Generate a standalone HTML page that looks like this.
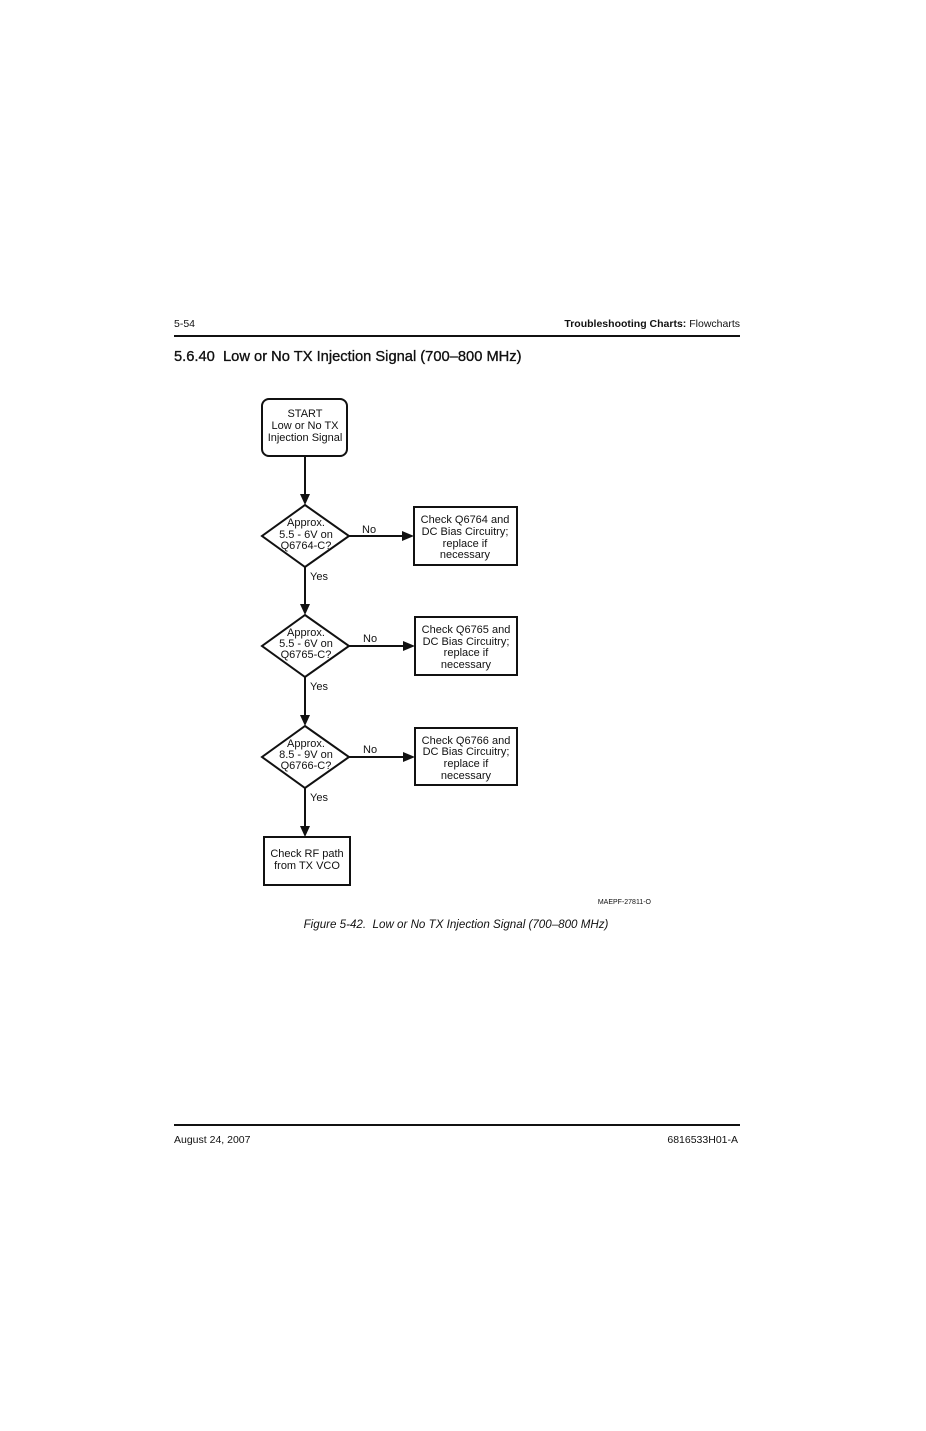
<!DOCTYPE html>
<html>
<head>
<meta charset="utf-8">
<style>
html,body{margin:0;padding:0;background:#fff;}
body{width:926px;height:1431px;position:relative;overflow:hidden;font-family:"Liberation Sans",Arial,sans-serif;}
svg{position:absolute;left:0;top:0;}
text{white-space:pre;}
</style>
</head>
<body>
<svg width="926" height="1431" viewBox="0 0 926 1431" xmlns="http://www.w3.org/2000/svg" xml:space="preserve" font-family="Liberation Sans, Arial, sans-serif" fill="#111">
  <!-- Header -->
  <text x="174" y="327" font-size="10.5">5-54</text>
  <text x="740" y="327" font-size="10.5" text-anchor="end"><tspan font-weight="bold">Troubleshooting Charts:</tspan> Flowcharts</text>
  <rect x="174" y="335" width="566" height="2" fill="#111"/>
  <text x="174" y="361" font-size="14.7" stroke="#111" stroke-width="0.35">5.6.40  Low or No TX Injection Signal (700–800 MHz)</text>

  <g stroke="#111" stroke-width="2" fill="none">
    <rect x="262" y="399" width="85" height="57" rx="7" ry="7"/>
    <polygon points="305,505 349,536 305,567 262,536"/>
    <polygon points="305,615 349,646 305,677 262,646"/>
    <polygon points="305,726 349,757 305,788 262,757"/>
    <rect x="414" y="507" width="103" height="58"/>
    <rect x="415" y="617" width="102" height="58"/>
    <rect x="415" y="728" width="102" height="57"/>
    <rect x="264" y="837" width="86" height="48"/>
    <line x1="305" y1="456" x2="305" y2="496"/>
    <line x1="305" y1="567" x2="305" y2="606"/>
    <line x1="305" y1="677" x2="305" y2="717"/>
    <line x1="305" y1="788" x2="305" y2="828"/>
    <line x1="349" y1="536" x2="404" y2="536"/>
    <line x1="349" y1="646" x2="405" y2="646"/>
    <line x1="349" y1="757" x2="405" y2="757"/>
  </g>
  <g fill="#111">
    <polygon points="300,494 310,494 305,505"/>
    <polygon points="300,604 310,604 305,615"/>
    <polygon points="300,715 310,715 305,726"/>
    <polygon points="300,826 310,826 305,837"/>
    <polygon points="402,531 402,541 414,536"/>
    <polygon points="403,641 403,651 415,646"/>
    <polygon points="403,752 403,762 415,757"/>
  </g>

  <g font-size="11" text-anchor="middle">
    <text x="305" y="417">START</text>
    <text x="305" y="429">Low or No TX</text>
    <text x="305" y="441">Injection Signal</text>
    <text x="306" y="526">Approx.</text>
    <text x="306" y="538">5.5 - 6V on</text>
    <text x="306" y="549">Q6764-C?</text>
    <text x="465" y="523">Check Q6764 and</text>
    <text x="465" y="535">DC Bias Circuitry;</text>
    <text x="465" y="547">replace if</text>
    <text x="465" y="558">necessary</text>
    <text x="306" y="636">Approx.</text>
    <text x="306" y="647">5.5 - 6V on</text>
    <text x="306" y="658">Q6765-C?</text>
    <text x="466" y="633">Check Q6765 and</text>
    <text x="466" y="645">DC Bias Circuitry;</text>
    <text x="466" y="656">replace if</text>
    <text x="466" y="668">necessary</text>
    <text x="306" y="747">Approx.</text>
    <text x="306" y="758">8.5 - 9V on</text>
    <text x="306" y="769">Q6766-C?</text>
    <text x="466" y="744">Check Q6766 and</text>
    <text x="466" y="755">DC Bias Circuitry;</text>
    <text x="466" y="767">replace if</text>
    <text x="466" y="779">necessary</text>
    <text x="307" y="857">Check RF path</text>
    <text x="307" y="869">from TX VCO</text>
  </g>
  <g font-size="11">
    <text x="362" y="533">No</text>
    <text x="363" y="642">No</text>
    <text x="363" y="753">No</text>
    <text x="310" y="580">Yes</text>
    <text x="310" y="690">Yes</text>
    <text x="310" y="801">Yes</text>
  </g>

  <text x="651" y="904" font-size="7" text-anchor="end">MAEPF-27811-O</text>
  <text x="456" y="928" font-size="11.6" font-style="italic" text-anchor="middle">Figure 5-42.  Low or No TX Injection Signal (700–800 MHz)</text>

  <rect x="174" y="1124" width="566" height="2" fill="#111"/>
  <text x="174" y="1143" font-size="10.5">August 24, 2007</text>
  <text x="738" y="1143" font-size="10.5" text-anchor="end">6816533H01-A</text>
</svg>
</body>
</html>
